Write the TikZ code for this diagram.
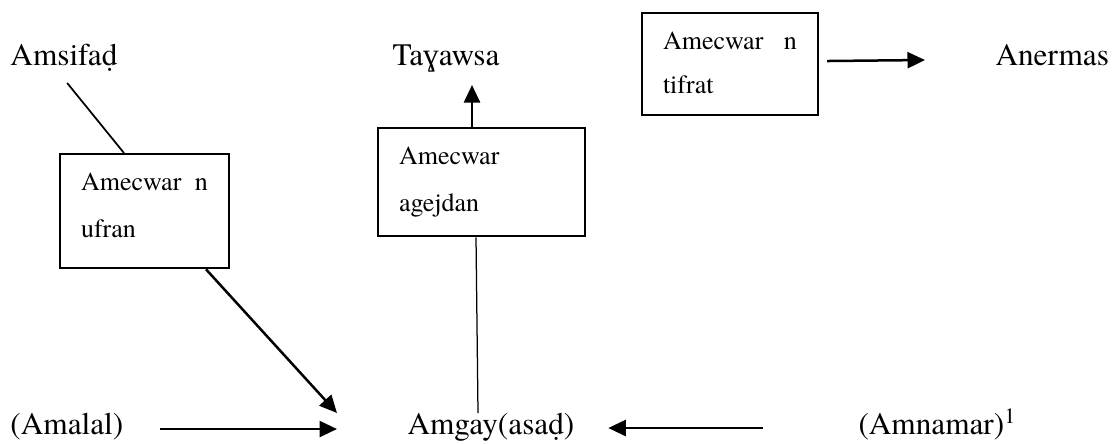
\documentclass[tikz,border=0pt]{standalone}
\usepackage{fontspec}
\setmainfont{TeX Gyre Termes}
\newfontfamily\ipafont{Liberation Serif}
\usetikzlibrary{arrows.meta}

\begin{document}
\begin{tikzpicture}[x=0.4pt,y=-0.4pt,>={Triangle[length=7pt,width=6.4pt]},
	word/.style={inner sep=0pt, anchor=base west, font=\fontsize{12.5}{15}\selectfont},
	box/.style={draw, line width=0.8pt, anchor=north west, align=left, inner xsep=8.4pt, inner ysep=7.5pt, font=\fontsize{10.4}{18.8}\selectfont},
	arrow/.style={->, line width=1pt},
	link/.style={line width=0.7pt}]
	
	\useasboundingbox (0,0) rectangle (1112,443);
	
	% top row
	\node[word] (amsifad) at (10,65) {Amsifaḍ};
	\node[word] (tayawsa) at (392,65) {Ta{\ipafont ɣ}awsa};
	\node[word] (anermas) at (995,65) {Anermas};
	
	% boxes
	\node[box, text width=50.8pt] (ufran) at (59,153) {Amecwar\hfill n\\ ufran\rule[-4.9pt]{0pt}{0pt}};
	\node[box, text width=66pt] (agejdan) at (377,127) {Amecwar\\ agejdan\rule[-2.5pt]{0pt}{0pt}};
	\node[box, text width=53.6pt, font=\fontsize{10.4}{17.8}\selectfont] (tifrat) at (641,12) {Amecwar\hfill n\\ tifrat\rule[-1pt]{0pt}{0pt}};
	
	% bottom row
	\node[word] (amalal) at (10,434) {(Amalal)};
	\node[word] (amgay) at (407,434) {Amgay(asaḍ)};
	\node[word] (amnamar) at (858,434) {(Amnamar)\textsuperscript{1}};
	
	% connectors
	\draw[link] ([xshift=1.3pt,yshift=-7.2pt]amsifad.base) -- ([xshift=-8.2pt]ufran.north);
	\draw[arrow] ([xshift=24.6pt]ufran.south) -- ([xshift=-28pt,yshift=8.4pt]amgay.base west);
	\draw[arrow] ([xshift=14.4pt,yshift=2pt]amalal.base east) -- ([xshift=-28pt,yshift=2pt]amgay.base west);
	\draw[arrow] ([xshift=-38pt,yshift=2.4pt]amnamar.base west) -- ([xshift=13.4pt,yshift=2.4pt]amgay.base east);
	\draw[arrow, shorten >=8pt] ([xshift=-3.8pt]agejdan.north) -- ([xshift=-3.8pt]agejdan.north |- tayawsa.base);
	\draw[line width=0.5pt] ([xshift=-2.2pt]agejdan.south) -- ([xshift=28.4pt,yshift=8.4pt]amgay.base west);
	\draw[arrow] ([xshift=3.2pt,yshift=1.2pt]tifrat.east) -- ([xshift=-28pt,yshift=2pt]anermas.base west);
	
\end{tikzpicture}
\end{document}
